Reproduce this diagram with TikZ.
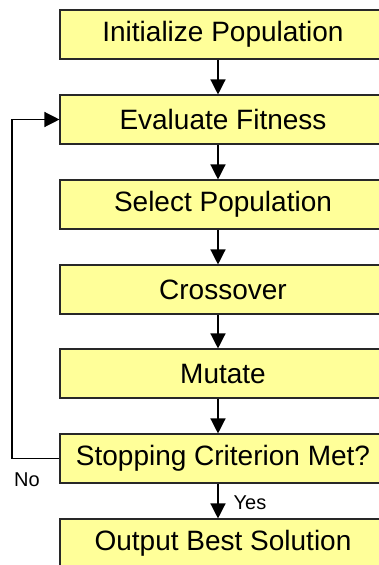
\documentclass[tikz,border=0pt]{standalone}
\usepackage{fontspec}
\setmainfont{Liberation Sans}
\usetikzlibrary{arrows.meta}
\definecolor{boxfill}{RGB}{255,255,153}
\definecolor{boxline}{RGB}{40,40,40}
\tikzset{
  stepbox/.style={draw=boxline, line width=1.1pt, fill=boxfill,
    minimum width=326pt, minimum height=49pt, inner sep=0pt,
    font=\fontsize{28}{32}\selectfont, anchor=center},
  flow/.style={draw=black, line width=1.3pt,
    -{Triangle[length=15pt,width=15pt]}},
  tag/.style={font=\fontsize{20}{24}\selectfont, inner sep=0pt}
}
\begin{document}
\begin{tikzpicture}[x=1pt, y=-1pt]
  \useasboundingbox (0,0) rectangle (379,565);
  \clip (0,0) rectangle (379,565);

  % vertical spine along which the arrows run
  \coordinate (spine) at (218,0);

  % process steps
  \node[stepbox] (init)   at (223,34.5)  {Initialize Population};
  \node[stepbox] (eval)   at (223,119.5) {Evaluate Fitness};
  \node[stepbox] (select) at (223,204.5) {Select Population};
  \node[stepbox] (cross)  at (223,289.5) {Crossover};
  \node[stepbox] (mutate) at (223,373.5) {Mutate};
  \node[stepbox] (stop)   at (223,458.5) {Stopping Criterion Met?};
  \node[stepbox] (output) at (223,543.5) {Output Best Solution};

  % main flow
  \draw[flow] (init.south -| spine)   -- (eval.north -| spine);
  \draw[flow] (eval.south -| spine)   -- (select.north -| spine);
  \draw[flow] (select.south -| spine) -- (cross.north -| spine);
  \draw[flow] (cross.south -| spine)  -- (mutate.north -| spine);
  \draw[flow] (mutate.south -| spine) -- (stop.north -| spine);
  \draw[flow] (stop.south -| spine)   -- (output.north -| spine);

  % loop back when the criterion is not met
  \coordinate (loopx) at (12,0);
  \draw[flow] (stop.west) -- (stop.west -| loopx) -- (eval.west -| loopx) -- (eval.west);

  % branch labels
  \node[tag] (no)  at (27,479.5) {No};
  \node[tag] (yes) at (250,503)  {Yes};
\end{tikzpicture}
\end{document}
